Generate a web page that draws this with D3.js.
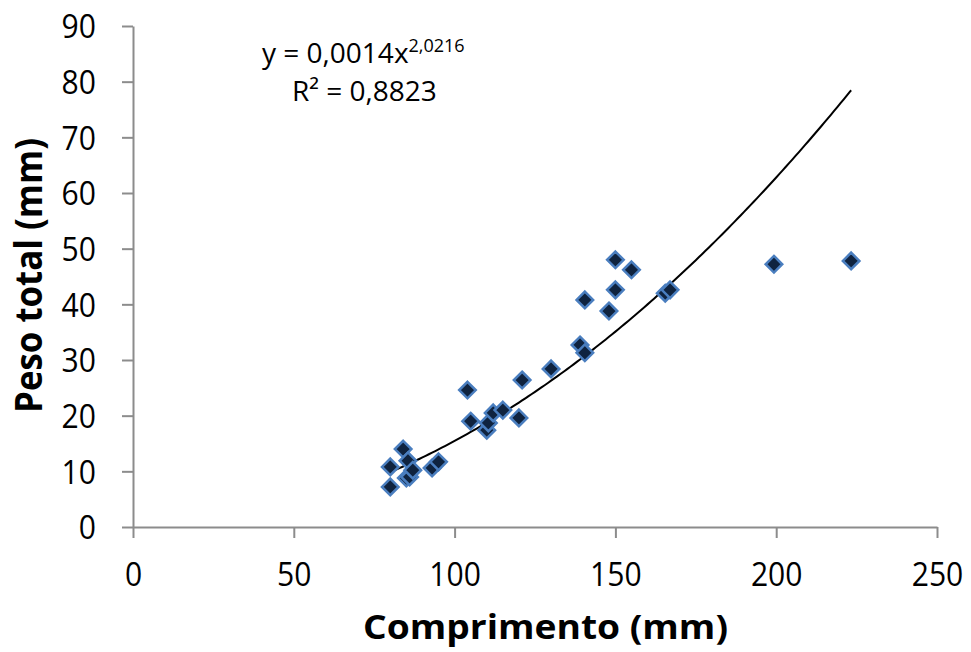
<!DOCTYPE html>
<html>
<head>
<meta charset="utf-8">
<script src="https://cdn.jsdelivr.net/npm/d3@7"></script>
<style>
  body { margin: 0; background: #fff; }
  text { font-family: "Open Sans", "Noto Sans", sans-serif; }
</style>
</head>
<body>
<div id="chart-container"></div>
<script>
// comprimento (mm) vs peso total
let comprimento = [80, 80, 84, 85.5, 85, 86, 87, 93, 95, 104, 105, 110, 110.5, 112, 115, 120, 121, 130, 139, 140.5, 140.5, 148, 150, 150, 155, 165.5, 167, 199.3, 223.3];
let peso = [7.2, 10.8, 14.0, 11.9, 8.8, 9.0, 10.2, 10.6, 11.7, 24.6, 19.0, 17.4, 18.7, 20.5, 21.0, 19.6, 26.4, 28.4, 32.7, 31.3, 40.8, 38.8, 42.6, 48.0, 46.2, 42.0, 42.6, 47.2, 47.8];
let xTicks = [0, 50, 100, 150, 200, 250];
let yTicks = [0, 10, 20, 30, 40, 50, 60, 70, 80, 90];
let trendA = 0.0014, trendB = 2.0216;
let trendRange = [80, 223.3];

let margin = { top: 26, right: 34, bottom: 125, left: 133 };
let width = 971 - margin.left - margin.right;
let height = 652 - margin.top - margin.bottom;

var svg = d3
  .select("#chart-container")
  .append("svg")
  .attr("width", 971)
  .attr("height", 652)
  .append("g")
  .attr("transform", "translate(" + margin.left + "," + margin.top + ")");

let xScale = d3.scaleLinear().domain([0, 250]).range([0, width]);
let yScale = d3.scaleLinear().domain([0, 90]).range([height, 0]);

// Axes
let xAxis = svg
  .append("g")
  .attr("transform", "translate(0," + height + ")")
  .call(d3.axisBottom(xScale).tickValues(xTicks).tickSize(11).tickSizeOuter(0).tickPadding(25));

let yAxis = svg
  .append("g")
  .call(d3.axisLeft(yScale).tickValues(yTicks).tickSize(11).tickSizeOuter(0).tickPadding(26));

// source picture is a bit wide: squeeze the labels to its proportions
[xAxis, yAxis].forEach((ax) => {
  ax.selectAll("path, line").attr("stroke", "#8c8c8c").attr("stroke-width", 2);
  ax.selectAll("text")
    .attr("fill", "#000")
    .attr("textLength", (d) => String(d).length * 17.2)
    .attr("lengthAdjust", "spacingAndGlyphs")
    .style("font-size", "33px")
    .style("font-family", "'Open Sans', sans-serif");
});
yAxis.selectAll("text").attr("dy", "0.36em");

// Trend line (power)
let trendX = d3.range(trendRange[0], trendRange[1], 1).concat([trendRange[1]]);
svg
  .append("path")
  .datum(trendX)
  .attr("fill", "none")
  .attr("stroke", "#000")
  .attr("stroke-width", 2)
  .attr("d", d3.line()
    .x((d) => xScale(d))
    .y((d) => yScale(trendA * Math.pow(d, trendB)))
    .curve(d3.curveMonotoneX));

// Dots
let diamond = d3.symbol().type(d3.symbolDiamond2).size(175);
svg
  .append("g")
  .selectAll(".dot")
  .data(comprimento)
  .enter()
  .append("path")
  .attr("class", "dot")
  .attr("d", diamond)
  .attr("transform", (d, i) => "translate(" + xScale(d) + "," + yScale(peso[i]) + ")")
  .attr("fill", "#0f233f")
  .attr("stroke", "#4a7ebf")
  .attr("stroke-width", 2.5);

// Equation
let eq = svg
  .append("text")
  .attr("x", 129)
  .attr("y", 37)
  .style("font-size", "28px")
  .attr("fill", "#000");
eq.append("tspan").text("y = 0,0014x");
eq.append("tspan").attr("dy", -11).style("font-size", "18px").text("2,0216");

svg
  .append("text")
  .attr("x", 159)
  .attr("y", 75)
  .style("font-size", "28px")
  .attr("fill", "#000")
  .text("R² = 0,8823");

// Axis titles
svg
  .append("text")
  .attr("x", 412.5)
  .attr("y", height + 112)
  .attr("textLength", 365)
  .attr("lengthAdjust", "spacingAndGlyphs")
  .style("text-anchor", "middle")
  .style("font-size", "34px")
  .style("font-weight", "bold")
  .text("Comprimento (mm)");

svg
  .append("text")
  .attr("transform", "rotate(-90)")
  .attr("x", -249.5)
  .attr("y", -91)
  .attr("textLength", 275)
  .attr("lengthAdjust", "spacingAndGlyphs")
  .style("text-anchor", "middle")
  .style("font-size", "37px")
  .style("font-weight", "bold")
  .text("Peso total (mm)");
</script>
</body>
</html>
